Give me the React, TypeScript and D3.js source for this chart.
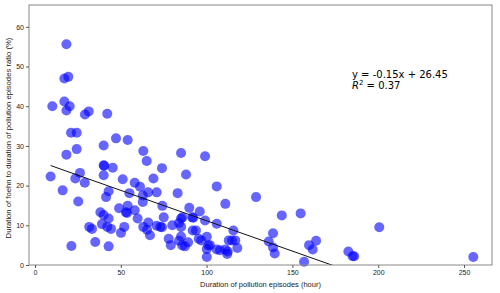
import React, { useEffect, useRef } from "react";
import * as d3 from "d3";

// pollution episode duration (hour) vs foehn share of the episode (%)
const durationHours = [
  18.3, 17.1, 19.4, 10.1, 17.1, 20.2, 18.3, 29.1, 31.3, 42.1,
  21.0, 24.3, 24.3, 40.0, 47.2, 54.0, 63.1, 85.1, 18.3, 65.1,
  99.1, 40.0, 40.3, 45.3, 74.0, 26.2, 23.5, 9.1, 40.0, 51.1,
  69.0, 88.0, 29.0, 58.1, 61.2, 105.9, 16.1, 42.9, 55.0, 65.9,
  70.9, 83.1, 41.4, 62.8, 25.2, 62.8, 74.2, 110.9, 49.0, 54.0,
  89.9, 58.1, 96.0, 38.1, 53.0, 53.6, 40.0, 42.9, 59.8, 75.0,
  85.1, 85.9, 91.6, 92.2, 99.1, 105.9, 39.0, 66.0, 80.0, 83.9,
  70.9, 31.6, 33.2, 42.1, 44.3, 52.0, 63.1, 65.3, 73.0, 74.0,
  85.1, 91.9, 93.8, 115.6, 50.1, 67.0, 85.1, 100.1, 77.9, 95.4,
  96.9, 83.9, 112.9, 114.8, 116.7, 35.1, 89.2, 79.1, 85.8, 87.4,
  101.0, 101.9, 21.2, 42.9, 100.1, 117.9, 105.9, 107.8, 110.9, 112.3,
  112.0, 100.1, 128.8, 143.8, 154.8, 138.7, 200.6, 136.2, 163.8, 159.7,
  138.7, 161.8, 139.7, 182.6, 185.1, 186.0, 156.8, 255.4,
];
const foehnRatio = [
  55.6, 47.0, 47.4, 40.0, 41.2, 40.0, 38.9, 37.9, 38.7, 38.1,
  33.3, 33.3, 29.2, 30.1, 31.9, 31.5, 28.7, 28.2, 27.8, 26.2,
  27.4, 25.1, 25.0, 24.5, 24.4, 23.2, 21.8, 22.3, 22.6, 21.6,
  21.8, 22.8, 20.7, 20.7, 19.7, 19.8, 18.8, 18.6, 18.1, 18.3,
  18.3, 18.1, 17.1, 17.5, 16.0, 15.9, 14.9, 15.4, 14.3, 14.9,
  14.4, 13.8, 13.5, 13.3, 13.3, 13.1, 12.6, 11.7, 11.7, 12.0,
  11.7, 12.0, 12.0, 11.9, 11.2, 10.4, 10.3, 10.7, 10.0, 10.6,
  9.9, 9.6, 9.1, 9.6, 9.1, 9.6, 9.6, 8.9, 9.6, 9.5,
  9.6, 8.7, 8.7, 8.7, 8.1, 7.5, 7.2, 7.1, 6.6, 6.6,
  6.2, 6.1, 6.2, 6.2, 6.2, 5.8, 5.7, 5.0, 4.9, 4.7,
  4.9, 5.0, 4.8, 4.7, 4.0, 4.3, 3.9, 3.7, 3.9, 3.4,
  2.8, 2.0, 17.1, 12.5, 13.0, 8.0, 9.5, 5.9, 6.1, 5.0,
  4.4, 3.9, 2.9, 3.4, 2.2, 2.2, 0.8, 2.0,
];

const xTicks = [0, 50, 100, 150, 200, 250];
const yTicks = [0, 10, 20, 30, 40, 50, 60];
const slope = -0.153;
const intercept = 26.45;
const rSquared = "0.37";

const xLabel = "Duration of pollution episodes (hour)";
const yLabel = "Duration of foehn to duration of pollution episodes ratio (%)";

export default function App() {
  const ref = useRef<SVGSVGElement>(null);

  useEffect(() => {
    const width = 500;
    const height = 293;
    const margin = { top: 5, right: 8, bottom: 28, left: 29 };

    const svg = d3.select(ref.current);
    svg.selectAll("*").remove();

    const x = d3.scaleLinear().domain([-3.5, 266.3]).range([margin.left, width - margin.right]);
    const y = d3.scaleLinear().domain([0, 65.5]).range([height - margin.bottom, margin.top]);

    svg.append("defs").append("clipPath").attr("id", "plotClip")
      .append("rect")
      .attr("x", margin.left).attr("y", margin.top)
      .attr("width", width - margin.left - margin.right)
      .attr("height", height - margin.top - margin.bottom);

    const points = durationHours.map((d, i) => ({ x: d, y: foehnRatio[i] }));

    svg.append("g")
      .selectAll("circle")
      .data(points)
      .join("circle")
      .attr("cx", (d) => x(d.x))
      .attr("cy", (d) => y(d.y))
      .attr("r", 5)
      .attr("fill", "#0000ff")
      .attr("fill-opacity", 0.6);

    // fitted line
    const [xmin, xmax] = d3.extent(durationHours) as [number, number];
    const line = d3.line<number>().x((d) => x(d)).y((d) => y(slope * d + intercept));
    svg.append("path")
      .datum([xmin, xmax])
      .attr("d", line)
      .attr("clip-path", "url(#plotClip)")
      .attr("fill", "none")
      .attr("stroke", "#111")
      .attr("stroke-width", 1);

    // frame
    svg.append("rect")
      .attr("x", margin.left).attr("y", margin.top)
      .attr("width", width - margin.left - margin.right)
      .attr("height", height - margin.top - margin.bottom)
      .attr("fill", "none")
      .attr("stroke", "#888")
      .attr("stroke-width", 1);

    const xAxis = svg.append("g")
      .attr("transform", `translate(0,${height - margin.bottom})`)
      .call(d3.axisBottom(x).tickValues(xTicks).tickSize(3).tickPadding(2));
    const yAxis = svg.append("g")
      .attr("transform", `translate(${margin.left},0)`)
      .call(d3.axisLeft(y).tickValues(yTicks).tickSize(3).tickPadding(2));
    [xAxis, yAxis].forEach((g) => {
      g.select(".domain").remove();
      g.selectAll("line").attr("stroke", "#555");
      g.selectAll("text")
        .attr("font-family", "Liberation Sans, Arial, sans-serif")
        .attr("font-size", 7)
        .attr("fill", "#222");
    });

    svg.append("text")
      .attr("x", (margin.left + width - margin.right) / 2)
      .attr("y", 287)
      .attr("text-anchor", "middle")
      .attr("font-family", "Liberation Sans, Arial, sans-serif")
      .attr("font-size", 7.5)
      .attr("fill", "#222")
      .text(xLabel);

    svg.append("text")
      .attr("transform", `translate(11,${(margin.top + height - margin.bottom) / 2 + 3}) rotate(-90)`)
      .attr("text-anchor", "middle")
      .attr("font-family", "Liberation Sans, Arial, sans-serif")
      .attr("font-size", 7.7)
      .attr("fill", "#222")
      .text(yLabel);

    const eq = svg.append("g")
      .attr("font-family", "DejaVu Sans, sans-serif")
      .attr("font-size", 10)
      .attr("fill", "#000");
    eq.append("text").attr("x", 352).attr("y", 78)
      .text(`y = ${slope.toFixed(2)}x + ${intercept.toFixed(2)}`);
    const r2 = eq.append("text").attr("x", 352).attr("y", 89);
    r2.append("tspan").attr("font-style", "italic").text("R");
    r2.append("tspan").attr("font-size", 7).attr("dy", -4).text("2");
    r2.append("tspan").attr("dy", 4).text(` = ${rSquared}`);
  }, []);

  return (
    <svg
      ref={ref}
      width={500}
      height={293}
      style={{ position: "absolute", left: 0, top: 0, background: "#fff" }}
    />
  );
}
